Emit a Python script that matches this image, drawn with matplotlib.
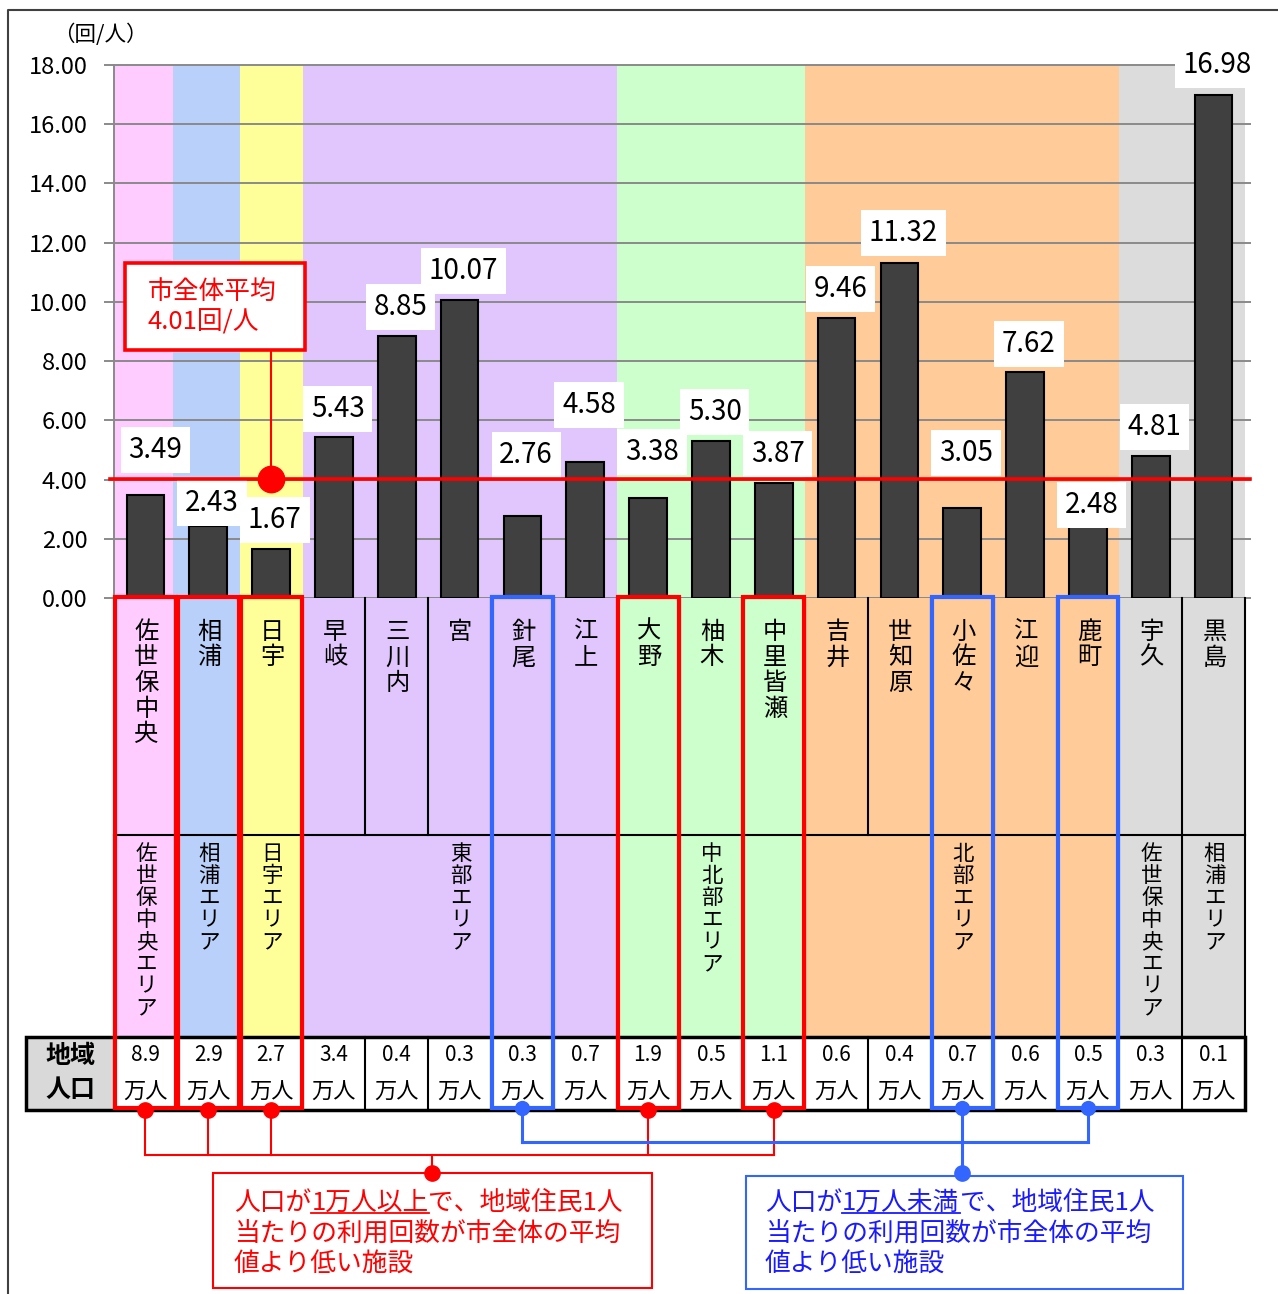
import numpy as np
import matplotlib.pyplot as plt
from matplotlib.patches import Rectangle

plt.rcParams['font.family'] = ['Noto Sans CJK JP', 'DejaVu Sans']

# 施設ごとの地域住民1人当たり利用回数（回/人）と地域人口（万人）
facilities = ["佐世保中央", "相浦", "日宇", "早岐", "三川内", "宮", "針尾", "江上", "大野",
              "柚木", "中里皆瀬", "吉井", "世知原", "小佐々", "江迎", "鹿町", "宇久", "黒島"]
uses_per_person = [3.49, 2.43, 1.67, 5.43, 8.85, 10.07, 2.76, 4.58, 3.38,
                   5.30, 3.87, 9.46, 11.32, 3.05, 7.62, 2.48, 4.81, 16.98]
population = [8.9, 2.9, 2.7, 3.4, 0.4, 0.3, 0.3, 0.7, 1.9,
              0.5, 1.1, 0.6, 0.4, 0.7, 0.6, 0.5, 0.3, 0.1]
areas = ["佐世保中央エリア", "相浦エリア", "日宇エリア", "東部エリア",
         "中北部エリア", "北部エリア", "佐世保中央エリア", "相浦エリア"]
area_sizes = [1, 1, 1, 5, 3, 5, 1, 1]
area_colors = ["#FFCCFF", "#B9D0FA", "#FFFF99", "#E0C6FC",
               "#CCFFCC", "#FFCC99", "#DCDCDC", "#DCDCDC"]
city_average = 4.01
y_ticks = np.arange(0, 20, 2)

# 数値ラベルのずらし量（棒の上端から）
label_dy = [1.5, 0.78, 0.96, 0.96, 0.98, 0.98, 2.07, 1.93, 1.55,
            0.98, 1.0, 0.98, 1.01, 1.85, 0.96, 0.66, 0.96, 1.02]
label_dx = [0.16] + [0.06] * 17

W, H = 1278, 1294
X0, X1 = 114, 1245
Y_TOP, Y_ZERO = 65, 598
ROW1_END, ROW2_END, TAB_END = 835, 1037, 1110
n = len(facilities)
cw = (X1 - X0) / n
edges = np.concatenate([[0], np.cumsum(area_sizes)])
# 色帯の境目（先頭の帯だけ少し狭い）
band_left = [float(e) for e in edges[:-1]]
band_left[1] = 0.94
band_right = band_left[1:] + [float(n)]


def col_left(i):
    return X0 + i * cw


def col_center(i):
    return X0 + (i + 0.5) * cw


def vtext(axis, x, y_first, s, step, size):
    # 縦書き：1文字ずつ並べる
    for k, ch in enumerate(s):
        axis.text(x, y_first + k * step, ch, ha='center', va='center', fontsize=size)


fig = plt.figure(figsize=(W / 100, H / 100), dpi=100)

# ---- 棒グラフ ----
ax = fig.add_axes([X0 / W, 1 - Y_ZERO / H, (X1 - X0) / W, (Y_ZERO - Y_TOP) / H])
ax.set_xlim(-0.5, n - 0.5)
ax.set_ylim(0, 18)
for k, c in enumerate(area_colors):
    ax.axvspan(band_left[k] - 0.5, band_right[k] - 0.5, color=c, lw=0, zorder=0)
ax.hlines(y_ticks, -0.5 - 10 / cw, n - 0.5 + 6 / cw, colors='#8a8a8a', lw=1.4,
          zorder=1, clip_on=False)
x = np.arange(n)
ax.bar(x, uses_per_person, width=0.6, color='#404040', edgecolor='black', lw=1.5, zorder=3)
for i, v in enumerate(uses_per_person):
    ax.text(i + label_dx[i], v + label_dy[i], f"{v:.2f}", ha='center', va='center',
            fontsize=20, zorder=4,
            bbox=dict(boxstyle='square,pad=0.28', fc='white', ec='none'))

ax.plot([-0.5 - 4 / cw, n - 0.5 + 5 / cw], [city_average, city_average],
        color='#FF0000', lw=2.6, zorder=5, clip_on=False)
ax.plot([2, 2], [city_average, 9.0], color='#FF0000', lw=1.5, zorder=5)
ax.plot(2, city_average, 'o', ms=19, color='#FF0000', zorder=6)

ax.set_xticks([])
ax.set_yticks(y_ticks)
ax.set_yticklabels([f"{v:.2f}" for v in y_ticks], fontsize=17)
ax.tick_params(axis='y', length=0, pad=19)
for s in ['top', 'right']:
    ax.spines[s].set_visible(False)
for s in ['left', 'bottom']:
    ax.spines[s].set_color('#8a8a8a')
    ax.spines[s].set_linewidth(1.4)

# ---- 表・注記（ピクセル座標） ----
ov = fig.add_axes([0, 0, 1, 1])
ov.set_xlim(0, W)
ov.set_ylim(H, 0)
ov.axis('off')

# 外枠
ov.plot([8, 8, W], [H, 10, 10], color='#404040', lw=1.5)
ov.text(100, 35, "（回/人）", ha='center', va='center', fontsize=15.5)

# 平均値の吹き出し
ov.add_patch(Rectangle((125, 263), 180, 87, fc='white', ec='#FF0000', lw=2.6))
ov.text(148, 292, "市全体平均", ha='left', va='center', fontsize=18.5, color='#FF0000')
ov.text(148, 323, f"{city_average:.2f}回/人", ha='left', va='center', fontsize=18.5,
        color='#FF0000')

# 施設名・エリア名の背景
for k, c in enumerate(area_colors):
    xl, xr = col_left(band_left[k]), col_left(band_right[k])
    ov.add_patch(Rectangle((xl, Y_ZERO), xr - xl, ROW2_END - Y_ZERO, fc=c, ec='none'))

for i in range(1, n + 1):
    ov.plot([col_left(i)] * 2, [Y_ZERO, ROW1_END], color='black', lw=1.5)
ov.plot([X0, X1], [ROW1_END, ROW1_END], color='black', lw=1.5)
for e in edges:
    ov.plot([col_left(e)] * 2, [ROW1_END, ROW2_END], color='black', lw=1.5)

for i, name in enumerate(facilities):
    vtext(ov, col_center(i) + 1, 632, name, 25.5, 17.5)
for k, name in enumerate(areas):
    xc = (col_left(edges[k]) + col_left(edges[k + 1])) / 2
    vtext(ov, xc + 1, 854, name, 22, 15.5)

# 地域人口の行
ov.add_patch(Rectangle((26, ROW2_END), X0 - 26, TAB_END - ROW2_END, fc='#D9D9D9', ec='none'))
ov.add_patch(Rectangle((X0, ROW2_END), X1 - X0, TAB_END - ROW2_END, fc='white', ec='none'))
for i in range(1, n):
    ov.plot([col_left(i)] * 2, [ROW2_END, TAB_END], color='black', lw=1.5)
ov.plot([X0, X0], [ROW2_END, TAB_END], color='black', lw=1.5)
ov.add_patch(Rectangle((26, ROW2_END), X1 - 26, TAB_END - ROW2_END, fc='none',
                       ec='black', lw=2.5))
ov.text(70, 1056, "地域", ha='center', va='center', fontsize=18, fontweight='bold')
ov.text(70, 1090, "人口", ha='center', va='center', fontsize=18, fontweight='bold')
for i, p in enumerate(population):
    ov.text(col_center(i), 1055, f"{p:.1f}", ha='center', va='center', fontsize=15)
    ov.text(col_center(i), 1092, "万人", ha='center', va='center', fontsize=16)

# 平均より低い施設の枠（人口1万人以上：赤、1万人未満：青）
red_cols = [i for i in range(n) if uses_per_person[i] < city_average and population[i] >= 1]
blue_cols = [i for i in range(n) if uses_per_person[i] < city_average and population[i] < 1]
RED, BLUE = '#FF0000', '#3366FF'
for cols, col in [(red_cols, RED), (blue_cols, BLUE)]:
    for i in cols:
        ov.add_patch(Rectangle((col_left(i) + 1, 597), cw - 2, 1108 - 597,
                               fc='none', ec=col, lw=3.0, zorder=5))

# 引き出し線
red_y, blue_y, box_top = 1155, 1142, 1173
red_anchor, blue_anchor = 432, col_center(13)
for i in red_cols:
    ov.plot([col_center(i)] * 2, [1110, red_y], color=RED, lw=1.5, zorder=4)
ov.plot([col_center(min(red_cols)), col_center(max(red_cols))], [red_y, red_y],
        color=RED, lw=1.5, zorder=4)
ov.plot([red_anchor] * 2, [red_y, box_top], color=RED, lw=1.5, zorder=4)
ov.plot([col_center(i) for i in red_cols], [1110] * len(red_cols), 'o', color=RED,
        ms=11, zorder=6)
ov.plot(red_anchor, box_top, 'o', color=RED, ms=11, zorder=6)

for i in blue_cols:
    ov.plot([col_center(i)] * 2, [1110, blue_y], color=BLUE, lw=2.2, zorder=4)
ov.plot([col_center(min(blue_cols)), col_center(max(blue_cols))], [blue_y, blue_y],
        color=BLUE, lw=2.2, zorder=4)
ov.plot([blue_anchor] * 2, [blue_y, box_top], color=BLUE, lw=2.2, zorder=4)
ov.plot([col_center(i) for i in blue_cols], [1108] * len(blue_cols), 'o', color=BLUE,
        ms=10, zorder=6)
ov.plot(blue_anchor, box_top, 'o', color=BLUE, ms=11, zorder=6)

# 注記ボックス
ov.add_patch(Rectangle((213, 1173), 439, 115, fc='white', ec=RED, lw=1.5, zorder=3))
ov.add_patch(Rectangle((746, 1176), 437, 113, fc='white', ec=BLUE, lw=1.5, zorder=3))

renderer = fig.canvas.get_renderer()


def note(x0, y0, parts, tail_lines, color):
    # 1行目は下線付きの部分を含むので分けて描く
    xc = x0
    for txt, under in parts:
        t = ov.text(xc, y0, txt, ha='left', va='baseline', fontsize=18.5,
                    color=color, zorder=7)
        bb = t.get_window_extent(renderer)
        if under:
            ov.plot([xc, xc + bb.width], [y0 + 3, y0 + 3], color=color, lw=1.3, zorder=7)
        xc += bb.width
    for k, line in enumerate(tail_lines):
        ov.text(x0, y0 + 31 * (k + 1), line, ha='left', va='baseline', fontsize=18.5,
                color=color, zorder=7)


note(234, 1210, [("人口が", False), ("1万人以上", True), ("で、地域住民1人", False)],
     ["当たりの利用回数が市全体の平均", "値より低い施設"], '#FF0000')
note(765, 1210, [("人口が", False), ("1万人未満", True), ("で、地域住民1人", False)],
     ["当たりの利用回数が市全体の平均", "値より低い施設"], '#1A1AFF')

fig.savefig("out.png", dpi=100)
